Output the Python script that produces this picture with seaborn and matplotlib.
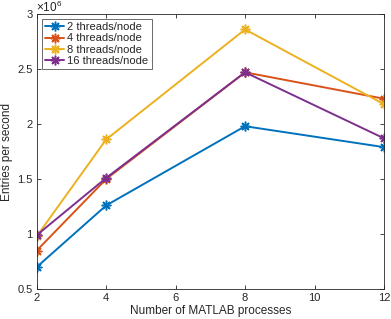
import numpy as np
import pandas as pd
import seaborn as sns
import matplotlib.pyplot as plt
from matplotlib.ticker import FuncFormatter

# data
processes = [2, 4, 8, 12]
threads_2 = [0.70e6, 1.26e6, 1.98e6, 1.79e6]
threads_4 = [0.85e6, 1.50e6, 2.47e6, 2.23e6]
threads_8 = [0.98e6, 1.86e6, 2.86e6, 2.18e6]
threads_16 = [0.99e6, 1.51e6, 2.47e6, 1.87e6]
labels = ['2 threads/node', '4 threads/node', '8 threads/node', '16 threads/node']
colors = ['#0072BD', '#D95319', '#EDB120', '#7E2F8E']

sns.set_style('ticks')
plt.rcParams['font.family'] = ['Liberation Sans', 'DejaVu Sans']
plt.rcParams['mathtext.fontset'] = 'custom'
plt.rcParams['mathtext.rm'] = 'Liberation Sans'

fig = plt.figure(figsize=(3.91, 3.19), dpi=100)
ax = fig.add_axes([0.094, 0.094, 0.888, 0.862])

for vals, lab, col in zip([threads_2, threads_4, threads_8, threads_16], labels, colors):
    df = pd.DataFrame({'x': processes, 'y': vals})
    sns.lineplot(data=df, x='x', y='y', ax=ax, color=col, label=lab,
                 marker=(8, 2, 0), markersize=7, markeredgewidth=1.1,
                 markeredgecolor=col, linewidth=1.4)

ax.set_xlim(2, 12)
ax.set_ylim(0.5e6, 3e6)
ax.set_xticks([2, 4, 6, 8, 10, 12])
ax.set_yticks([0.5e6, 1e6, 1.5e6, 2e6, 2.5e6, 3e6])
ax.yaxis.set_major_formatter(FuncFormatter(lambda v, p: f'{v / 1e6:g}'))
ax.tick_params(direction='in', top=True, right=True, labelsize=8, length=3,
               width=0.6, colors='#262626', pad=3)
for sp in ax.spines.values():
    sp.set_linewidth(0.6)
    sp.set_color('#262626')

ax.set_xlabel('Number of MATLAB processes', fontsize=8.5, labelpad=1, color='#262626')
ax.set_ylabel('Entries per second', fontsize=8.5, labelpad=3, color='#262626')
ax.annotate(r'$\times\mathregular{10^{6}}$', xy=(0, 1), xycoords='axes fraction',
            xytext=(-0.5, 1.2), textcoords='offset points', fontsize=8.5,
            color='#262626', ha='left', va='baseline')

leg = ax.legend(loc='upper left', fontsize=8, frameon=True, fancybox=False,
                edgecolor='#262626', handlelength=1.7, handletextpad=0.3,
                labelspacing=0.1, borderpad=0.3, borderaxespad=0.45)
leg.get_frame().set_linewidth(0.6)

fig.savefig('out.png', dpi=100)
